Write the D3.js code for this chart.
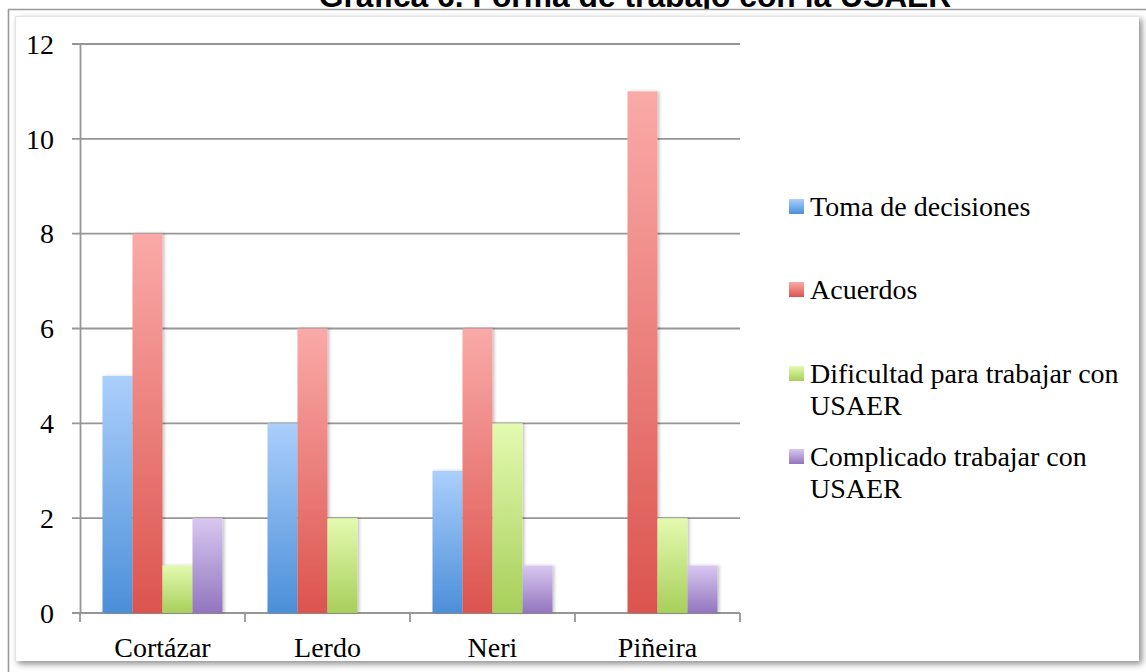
<!DOCTYPE html>
<html>
<head>
<meta charset="utf-8">
<script src="https://cdn.jsdelivr.net/npm/d3@7"></script>
<style>
  html, body { margin: 0; padding: 0; background: #fff; }
  svg { display: block; }
</style>
</head>
<body>
<svg id="chart" width="1146" height="672"></svg>
<script>
// Data
const categories = ["Cortázar", "Lerdo", "Neri", "Piñeira"];
const seriesNames = ["Toma de decisiones", "Acuerdos", "Dificultad para trabajar con USAER", "Complicado trabajar con USAER"];
const tomaDecisiones = [5, 4, 3, 0];
const acuerdos = [8, 6, 6, 11];
const dificultad = [1, 2, 4, 2];
const complicado = [2, 0, 1, 1];
const yTicks = [0, 2, 4, 6, 8, 10, 12];
const legendLines = [["Toma de decisiones"], ["Acuerdos"], ["Dificultad para trabajar con", "USAER"], ["Complicado trabajar con", "USAER"]];
const titleText = "Gráfica 6. Forma de trabajo con la USAER";

// gradient stops per series: [top, bottom]
const seriesColors = [
  ["#abcffb", "#4b8fd9"],
  ["#faaaa8", "#dc544e"],
  ["#e3fab0", "#a8cf5a"],
  ["#d8c7f0", "#9275be"]
];

const seriesValues = [tomaDecisiones, acuerdos, dificultad, complicado];

const svg = d3.select("#chart");
const W = 1146, H = 672;
const serif = "'Liberation Serif', 'Times New Roman', serif";

const defs = svg.append("defs");
seriesColors.forEach((c, i) => {
  const g = defs.append("linearGradient").attr("id", "grad" + i)
    .attr("x1", 0).attr("y1", 0).attr("x2", 0).attr("y2", 1);
  g.append("stop").attr("offset", "0%").attr("stop-color", c[0]);
  g.append("stop").attr("offset", "100%").attr("stop-color", c[1]);
});
const barShadow = defs.append("filter").attr("id", "barShadow")
  .attr("x", "-20%").attr("y", "-5%").attr("width", "160%").attr("height", "110%");
barShadow.append("feDropShadow").attr("dx", 2).attr("dy", 0).attr("stdDeviation", 1.6)
  .attr("flood-color", "#000").attr("flood-opacity", 0.22);
const panelShadow = defs.append("filter").attr("id", "panelShadow")
  .attr("x", "-2%").attr("y", "-2%").attr("width", "104%").attr("height", "104%");
panelShadow.append("feDropShadow").attr("dx", 3).attr("dy", 3).attr("stdDeviation", 3)
  .attr("flood-color", "#000").attr("flood-opacity", 0.45);

// Title (top part falls outside the page)
svg.append("text")
  .attr("x", 635).attr("y", 7)
  .attr("text-anchor", "middle")
  .style("font-family", "'Liberation Sans', Arial, sans-serif")
  .style("font-weight", "bold")
  .style("font-size", "31.8px")
  .text(titleText);

// Frame
svg.append("rect").attr("x", 8).attr("y", 9).attr("width", W - 8).attr("height", H - 9)
  .attr("fill", "#fff");
svg.append("path").attr("d", `M8.5,${H} V9.5 H${W}`)
  .attr("fill", "none").attr("stroke", "#9a9a9a").attr("stroke-width", 1.6);
svg.append("rect").attr("x", 15).attr("y", 16).attr("width", 1124).attr("height", 645)
  .attr("fill", "#fff").attr("filter", "url(#panelShadow)");
svg.append("path").attr("d", `M15.5,661 V16.5 H1139`)
  .attr("fill", "none").attr("stroke", "#e4e4e4").attr("stroke-width", 1.2);

// Scales
const x = d3.scaleBand().domain(categories).range([80, 740]).paddingInner(0).paddingOuter(0);
const inner = d3.scaleBand().domain(d3.range(seriesNames.length))
  .range([22.5, x.bandwidth() - 22.5]).padding(0);
const y = d3.scaleLinear().domain([0, 12]).range([613, 44]);

// Gridlines + y ticks
const gridColor = "#969696";
svg.append("g").selectAll("line").data(yTicks).join("line")
  .attr("x1", 72).attr("x2", 740)
  .attr("y1", d => y(d)).attr("y2", d => y(d))
  .attr("stroke", gridColor).attr("stroke-width", 1.8);

// Y axis
const yAxis = d3.axisLeft(y).tickValues(yTicks).tickSize(0).tickPadding(26);
const yg = svg.append("g").attr("transform", "translate(80,0)").call(yAxis);
yg.select(".domain").attr("stroke", gridColor).attr("stroke-width", 1.8);
yg.selectAll("text")
  .style("font-family", serif).style("font-size", "28px").attr("fill", "#000")
  .attr("dy", "0.33em");

// X axis: ticks at category boundaries
const boundaries = categories.map(c => x(c)).concat([x.range()[1]]);
svg.append("g").selectAll("line").data(boundaries).join("line")
  .attr("x1", d => d).attr("x2", d => d)
  .attr("y1", y(0)).attr("y2", y(0) + 9)
  .attr("stroke", gridColor).attr("stroke-width", 1.8);
svg.append("g").selectAll("text").data(categories).join("text")
  .attr("x", d => x(d) + x.bandwidth() / 2).attr("y", 657)
  .attr("text-anchor", "middle")
  .style("font-family", serif).style("font-size", "28px").attr("fill", "#000")
  .text(d => d);

// Bars
const barData = [];
categories.forEach((c, ci) => {
  seriesValues.forEach((vals, si) => {
    barData.push({ cat: c, s: si, v: vals[ci] });
  });
});
svg.append("g").selectAll("rect").data(barData.filter(d => d.v > 0)).join("rect")
  .attr("x", d => x(d.cat) + inner(d.s))
  .attr("y", d => y(d.v))
  .attr("width", inner.bandwidth())
  .attr("height", d => y(0) - y(d.v))
  .attr("fill", d => `url(#grad${d.s})`)
  .attr("filter", "url(#barShadow)");

// Legend
const legendBaselines = [216, 299, 383, 466];
const lg = svg.append("g");
legendLines.forEach((lines, i) => {
  const b = legendBaselines[i];
  lg.append("rect").attr("x", 789).attr("y", b - 17).attr("width", 15).attr("height", 15)
    .attr("fill", `url(#grad${i})`);
  lines.forEach((t, j) => {
    lg.append("text").attr("x", 810).attr("y", b + j * 32)
      .style("font-family", serif).style("font-size", "28px").attr("fill", "#000")
      .text(t);
  });
});
</script>
</body>
</html>
